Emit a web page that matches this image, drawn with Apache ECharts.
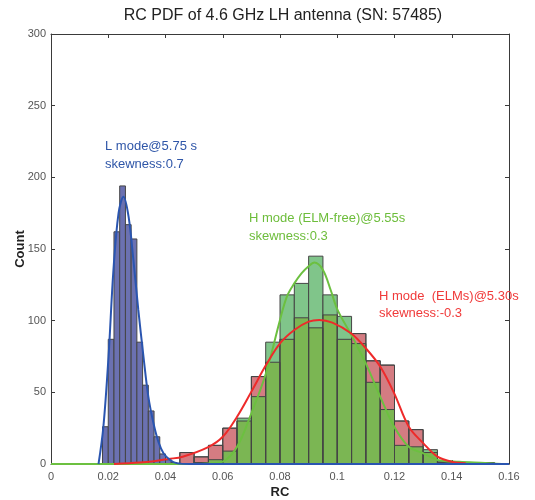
<!DOCTYPE html>
<html>
<head>
<meta charset="utf-8">
<script src="https://cdn.jsdelivr.net/npm/echarts@6/dist/echarts.min.js"></script>
<style>
  html, body { margin: 0; padding: 0; background: #fff; }
  #chart { width: 535px; height: 500px; }
</style>
</head>
<body>
<div id="chart"></div>
<script>
// L-mode histogram: bin width 0.002, bin centres and counts
const lBinWidth = 0.002;
const lCenters = [0.019, 0.021, 0.023, 0.025, 0.027, 0.029, 0.031, 0.033, 0.035, 0.037, 0.039, 0.041, 0.043];
const lCounts  = [26, 87, 162, 194, 167, 157, 85, 55, 37, 19, 7, 3, 1];

// H-mode histograms: bin width 0.005, shared bin centres
const hBinWidth = 0.005;
const hCenters = [0.0475, 0.0525, 0.0575, 0.0625, 0.0675, 0.0725, 0.0775, 0.0825, 0.0875, 0.0925, 0.0975,
                  0.1025, 0.1075, 0.1125, 0.1175, 0.1225, 0.1275, 0.1325, 0.1375, 0.1425, 0.1475, 0.1525];
const elmCounts     = [8, 5, 13, 25, 30, 61, 71, 87, 102, 95, 104, 87, 91, 72, 69, 30, 24, 8, 1, 0, 0, 0];
const elmFreeCounts = [0, 1, 3, 9, 32, 47, 85, 118, 126, 145, 118, 103, 84, 57, 38, 13, 12, 10, 2, 1, 1, 1];

// Fitted density curves (scaled to counts)
const lFitX = [0.0166, 0.0183, 0.0201, 0.0218, 0.0236, 0.0253, 0.0271, 0.0288, 0.0305, 0.0323,
               0.0340, 0.0358, 0.0375, 0.0393, 0.0416, 0.0439, 0.0485, 0.16];
const lFitY = [0, 26, 75, 135, 175, 186.5, 172.6, 142, 107.5, 75, 47, 28.4, 15.6, 7.5, 2.8, 0.6, 0, 0];

const elmFreeFitX = [0, 0.0525, 0.0551, 0.0600, 0.0650, 0.0700, 0.0751, 0.0800, 0.0824, 0.0850, 0.0875,
                     0.0900, 0.0920, 0.0950, 0.0977, 0.1001, 0.1049, 0.1100, 0.1150, 0.1199, 0.1250,
                     0.1301, 0.1350, 0.1426, 0.1517, 0.1575];
const elmFreeFitY = [0, 0, 0.3, 1.6, 12, 35.4, 63.3, 100.5, 116.8, 126, 133, 138, 140.5, 135.4, 121.4,
                     107.5, 90, 70, 47, 26, 12, 7.4, 2.8, 1.5, 0.7, 0];

const elmFitX = [0.022, 0.031, 0.036, 0.041, 0.046, 0.0551, 0.0600, 0.0650, 0.0700, 0.0751, 0.0800,
                 0.0850, 0.0900, 0.0937, 0.0983, 0.1049, 0.1100, 0.1150, 0.1199, 0.1250, 0.1301,
                 0.1350, 0.1403, 0.1449];
const elmFitY = [0, 1, 2, 3.5, 5.1, 12, 19, 33, 50.5, 69, 84.2, 93.5, 99.3, 100.5, 98.6, 91, 80.7, 68,
                 49.3, 26, 14.4, 5.1, 1.4, 0.5];

// Axis ticks
const xTicks = { min: 0, max: 0.16, step: 0.02 };
const yTicks = { min: 0, max: 300, step: 50 };

const FONT = 'Liberation Sans, Arial, sans-serif';
const EDGE = '#454545';

function binRect(api, center, width, lo, hi) {
  const a = api.coord([center - width / 2, lo]);
  const b = api.coord([center + width / 2, hi]);
  return { x: a[0], y: b[1], width: b[0] - a[0], height: a[1] - b[1] };
}

const zip = (xs, ys) => xs.map((x, i) => [x, ys[i]]);

const chart = echarts.init(document.getElementById('chart'), null, { renderer: 'canvas' });

const axisBase = {
  type: 'value',
  axisLine: { show: true, onZero: false, lineStyle: { color: '#3a3a3a', width: 1 } },
  axisTick: { show: true, inside: true, length: 4, lineStyle: { color: '#3a3a3a' } },
  splitLine: { show: false }
};

chart.setOption({
  animation: false,
  backgroundColor: '#ffffff',
  grid: { left: 51, right: 26, top: 34, bottom: 36, containLabel: false, outerBoundsMode: 'none' },
  title: {
    text: 'RC PDF of 4.6 GHz LH antenna (SN: 57485)',
    left: 278, top: 3, textAlign: 'center',
    textStyle: { fontFamily: FONT, fontSize: 16, fontWeight: 'normal', color: '#222' }
  },
  xAxis: [
    Object.assign({}, axisBase, {
      min: xTicks.min, max: xTicks.max, interval: xTicks.step,
      axisLine: { show: true, onZero: false, lineStyle: { color: '#3c4766', width: 1.2 } },
      axisLabel: { color: '#555', fontFamily: FONT, fontSize: 11, margin: 7 },
      name: 'RC', nameLocation: 'middle', nameGap: 22, nameMoveOverlap: false,
      nameTextStyle: { fontFamily: FONT, fontSize: 13, fontWeight: 'bold', color: '#222' }
    }),
    Object.assign({}, axisBase, {
      position: 'top', min: xTicks.min, max: xTicks.max, interval: xTicks.step,
      axisLabel: { show: false }
    })
  ],
  yAxis: [
    Object.assign({}, axisBase, {
      min: yTicks.min, max: yTicks.max, interval: yTicks.step,
      axisLabel: { color: '#555', fontFamily: FONT, fontSize: 11, margin: 5 },
      name: 'Count', nameLocation: 'middle', nameGap: 24, nameMoveOverlap: false,
      nameTextStyle: { fontFamily: FONT, fontSize: 13, fontWeight: 'bold', color: '#222' }
    }),
    Object.assign({}, axisBase, {
      position: 'right', min: yTicks.min, max: yTicks.max, interval: yTicks.step,
      axisLabel: { show: false }
    })
  ],
  series: [
    // ELMy H-mode histogram fill
    {
      type: 'custom', name: 'ELMs', z: 2,
      data: zip(hCenters, elmCounts),
      renderItem: (params, api) => ({
        type: 'rect',
        shape: binRect(api, api.value(0), hBinWidth, 0, api.value(1)),
        style: { fill: '#d47c82', stroke: EDGE, lineWidth: 1 }
      })
    },
    // ELM-free H-mode histogram: overlap with the ELMy bins, then the excess
    {
      type: 'custom', name: 'ELM-free', z: 3,
      data: hCenters.map((c, i) => [c, elmFreeCounts[i], elmCounts[i]]),
      renderItem: (params, api) => {
        const c = api.value(0), g = api.value(1), r = api.value(2);
        const children = [];
        if (g <= 0) return { type: 'group', children };
        const lo = Math.min(g, r);
        children.push({ type: 'rect', shape: binRect(api, c, hBinWidth, 0, lo),
                        style: { fill: '#7bb653', stroke: null } });
        if (g > r) {
          children.push({ type: 'rect', shape: binRect(api, c, hBinWidth, r, g),
                          style: { fill: '#80c58a', stroke: null } });
        }
        children.push({ type: 'rect', shape: binRect(api, c, hBinWidth, 0, g),
                        style: { fill: null, stroke: EDGE, lineWidth: 1 } });
        return { type: 'group', children };
      }
    },
    // ELMy bin outlines drawn over the ELM-free fill
    {
      type: 'custom', name: 'ELMs edge', z: 4,
      data: zip(hCenters, elmCounts),
      renderItem: (params, api) => api.value(1) > 0 ? ({
        type: 'rect',
        shape: binRect(api, api.value(0), hBinWidth, 0, api.value(1)),
        style: { fill: null, stroke: EDGE, lineWidth: 1 }
      }) : { type: 'group', children: [] }
    },
    // L-mode histogram
    {
      type: 'custom', name: 'L mode', z: 5,
      data: zip(lCenters, lCounts),
      renderItem: (params, api) => ({
        type: 'rect',
        shape: binRect(api, api.value(0), lBinWidth, 0, api.value(1)),
        style: { fill: '#6b71b1', stroke: EDGE, lineWidth: 1 }
      })
    },
    // Fitted curves
    {
      type: 'line', name: 'ELM-free fit', z: 10, smooth: 0.35, symbol: 'none',
      data: zip(elmFreeFitX, elmFreeFitY),
      lineStyle: { color: '#6cc040', width: 2 }
    },
    {
      type: 'line', name: 'ELMs fit', z: 11, smooth: 0.35, symbol: 'none',
      data: zip(elmFitX, elmFitY),
      lineStyle: { color: '#ee2a2a', width: 2 }
    },
    {
      type: 'line', name: 'L fit', z: 12, smooth: 0.35, symbol: 'none',
      data: zip(lFitX, lFitY),
      lineStyle: { color: '#2a55b0', width: 2 }
    }
  ],
  graphic: [
    { type: 'text', left: 105, top: 137, z: 20,
      style: { text: 'L mode@5.75 s\nskewness:0.7', fill: '#2f56a8', font: '13px ' + FONT, lineHeight: 18 } },
    { type: 'text', left: 249, top: 209, z: 20,
      style: { text: 'H mode (ELM-free)@5.55s\nskewness:0.3', fill: '#6dbd3b', font: '13px ' + FONT, lineHeight: 18 } },
    { type: 'text', left: 379, top: 288, z: 20,
      style: { text: 'H mode  (ELMs)@5.30s\nskewness:-0.3', fill: '#f03a3a', font: '13px ' + FONT, lineHeight: 17 } }
  ]
});
</script>
</body>
</html>
